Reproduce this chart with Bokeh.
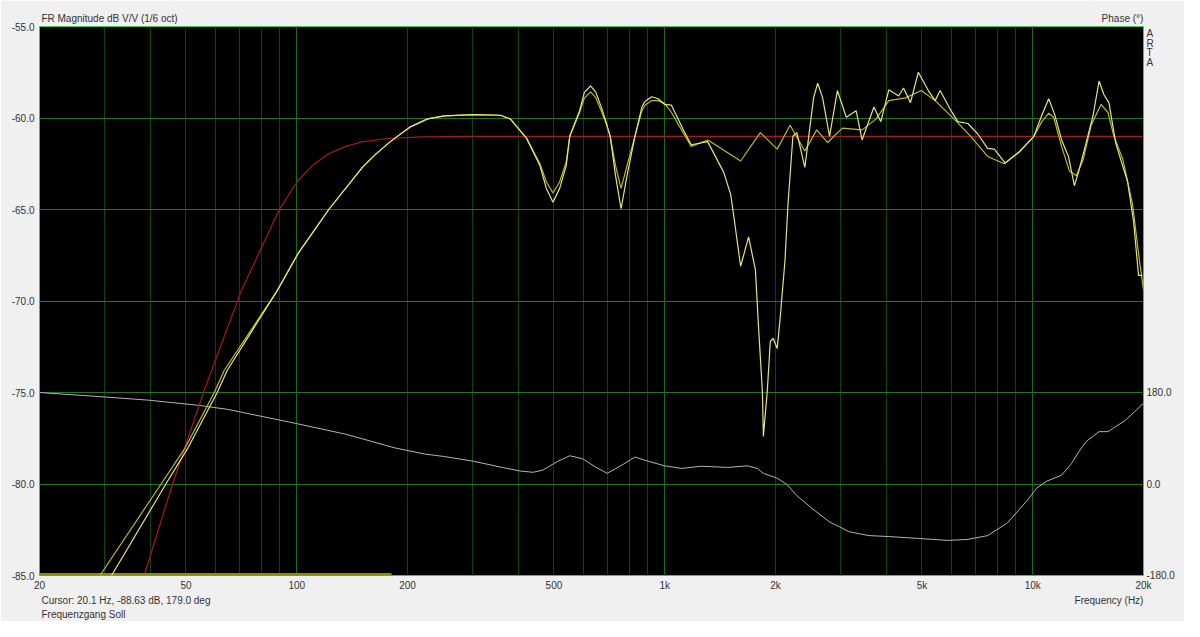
from bokeh.plotting import figure
from bokeh.models import (Range1d, LinearAxis, FixedTicker, PrintfTickFormatter, Grid, Title,
                          LinearScale)
from bokeh.embed import file_html
from bokeh.resources import INLINE

# ---------------- data ----------------
freq_ticks = [20, 50, 100, 200, 500, 1000, 2000, 5000, 10000, 20000]
freq_tick_labels = ["20", "50", "100", "200", "500", "1k", "2k", "5k", "10k", "20k"]
grid_freqs = [20, 30, 40, 50, 60, 70, 80, 90, 100, 200, 300, 400, 500, 600, 700, 800, 900,
              1000, 2000, 3000, 4000, 5000, 6000, 7000, 8000, 9000, 10000, 20000]
decade_freqs = [100, 1000, 10000]
db_ticks = [-85, -80, -75, -70, -65, -60, -55]
db_grid = [-80, -75, -70, -65, -60]
phase_ticks = [-180, 0, 180]

# target ("Soll") response, dark red
target_freq = [38.5, 46.0, 55.8, 70.5, 89.7, 100.9, 111, 122, 136, 151, 177, 220, 300, 1000,
               20000]
target_db = [-85, -80, -75, -69.5, -65, -63.4, -62.55, -61.95, -61.55, -61.3, -61.12, -61.03,
             -61.0, -61.0, -61.0]

# measured response (light yellow, detailed)
a_freq = [31.4, 44.1, 50.5, 60.8, 64.7, 88.1, 100.9, 122.2, 150.8, 163.4, 177, 184.9, 202.9,
          226.8, 252, 303, 358, 381, 421, 458, 477, 497, 518, 540, 552, 587, 605, 629, 650,
          675, 690, 711, 735, 761, 790, 830, 867, 883, 922, 960, 999, 1043, 1130, 1181, 1308,
          1447, 1512, 1539, 1608, 1690, 1764, 1797, 1842, 1854, 1900, 1936, 1972, 2021, 2058,
          2122, 2162, 2230, 2286, 2403, 2538, 2604, 2686, 2805, 2946, 3114, 3312, 3438,
          3702, 3866, 4064, 4322, 4456, 4654, 4888, 5204, 5432, 5602, 5996, 6262, 6664,
          7082, 7541, 7866, 8420, 9182, 10074, 10586, 11052, 11470, 11978, 12504, 12978,
          13384, 13991, 14592, 15144, 15616, 16108, 16820, 18114, 18798, 19388, 19872]
a_db = [-85, -80, -78.07, -75, -73.8, -69.5, -67.4, -65.0, -62.7, -62.0, -61.4, -61.1, -60.5,
        -60.05, -59.88, -59.82, -59.85, -60.06, -61.1, -62.6, -63.86, -64.6, -63.86, -62.6, -61.0,
        -59.6, -58.6, -58.25, -58.6, -59.5, -60.1, -61.0, -63.15, -64.96, -63.15, -61.0, -59.4,
        -59.1, -58.84, -58.95, -59.26, -59.3, -60.75, -61.46, -61.29, -62.97, -64.2, -65.3, -68.1,
        -66.5, -68.3, -71.3, -74.9, -77.4, -74.9, -72.2, -72.05, -72.6, -71.0, -67.8, -64.75,
        -61.0, -60.8, -62.7, -58.9, -58.1, -58.9, -61.0, -58.5, -59.96, -59.6, -61.2, -59.4,
        -60.2, -58.46, -58.8, -58.36, -59.16, -57.5, -58.5, -59.05, -58.5, -59.6, -60.2, -60.3,
        -60.86, -61.66, -61.7, -62.46, -61.87, -61.0, -59.85, -58.95, -59.8, -61.2, -62.1,
        -63.7, -62.8, -61.3, -59.85, -57.98, -58.73, -59.16, -61.4, -63.5, -65.66, -68.6, -68.6]

# smoothed response (olive yellow)
b_freq = [29.2, 42.8, 49.6, 59.7, 63.5, 88.1, 100.9, 122.2, 150.8, 163.4, 177, 184.9, 202.9,
          226.8, 252, 303, 358, 381, 421, 458, 477, 497, 518, 540, 552, 587, 605, 629, 650,
          675, 690, 711, 735, 761, 790, 830, 867, 883, 922, 960, 999, 1043, 1130, 1181, 1310,
          1608, 1819, 2021, 2191, 2403, 2588, 2770, 3038, 3438, 3748, 4064, 4510, 4980, 5432,
          6146, 6784, 7541, 8368, 9238, 10074, 10586, 11052, 11398, 11978, 12582, 13138,
          13720, 14412, 15328, 16014, 16620, 17570, 18684, 19388, 20000]
b_db = [-85, -80, -78.07, -75, -73.8, -69.5, -67.4, -65.0, -62.7, -62.0, -61.4, -61.1, -60.5,
        -60.05, -59.88, -59.82, -59.85, -60.06, -61.1, -62.5, -63.5, -64.1, -63.5, -62.4, -61.0,
        -59.7, -58.9, -58.57, -58.9, -59.7, -60.2, -61.0, -62.6, -63.85, -62.6, -61.0, -59.6,
        -59.3, -59.05, -59.05, -59.2, -59.7, -60.9, -61.55, -61.2, -62.35, -60.8, -61.7, -60.4,
        -61.8, -60.65, -61.34, -60.55, -60.65, -60.06, -59.05, -58.9, -58.5, -59.05, -60.1,
        -61.0, -62.1, -62.5, -61.8, -61.0, -60.2, -59.74, -59.96, -61.55, -62.9, -63.15,
        -62.25, -60.4, -59.26, -59.7, -61.0, -62.25, -64.75, -67.4, -69.4]

# low-frequency floor trace
floor_freq = [20, 181]
floor_db = [-85, -85]

# phase (degrees, right axis)
phase_freq = [20, 29.0, 39.5, 53.7, 64.7, 99.7, 135.8, 184.9, 222.6, 252, 303, 365, 405, 439,
              467, 510, 552, 598, 650, 698, 760, 830, 910, 999, 1110, 1256, 1484, 1678, 1786,
              1854, 2021, 2150, 2286, 2524, 2805, 2982, 3174, 3592, 4064, 4888, 5889, 6664,
              7541, 8533, 9656, 10262, 10926, 11978, 12740, 13384, 13991, 15144, 16014, 17915,
              20000]
phase_deg = [180, 172, 165, 155, 147, 119, 98, 71, 59, 54, 44.6, 32, 25.5, 23, 27.4, 44, 55.5,
             49.8, 33, 21, 36, 53, 44, 35.8, 30.6, 35, 32.6, 35.8, 30.6, 21, 11.5, -1.3, -23, -49,
             -74.7, -84, -94, -101.5, -103.4, -107, -111, -109, -101.5, -76.6, -32.6, -7.7, 5.7,
             17.2, 40, 65, 84, 103, 103, 126, 159]

# texts
title_left = "FR Magnitude dB V/V (1/6 oct)"
title_right = "Phase (°)"
arta_letters = ["A", "R", "T", "A"]
cursor_text = "Cursor: 20.1 Hz, -88.63 dB, 179.0 deg"
x_label = "Frequency (Hz)"
footer_text = "Frequenzgang Soll"

# ---------------- layout / style ----------------
FONT = "Liberation Sans"
TXT = "#333333"
FS = "10px"
W, H = 1184, 621
BL, BR, BT, BB = 39, 41, 26, 46
FW, FH = W - BL - BR, H - BT - BB

p = figure(width=W, height=H, x_axis_type="log", title=None,
           x_range=Range1d(20, 20000), y_range=Range1d(-85, -55),
           output_backend="svg", toolbar_location=None,
           min_border_left=BL, min_border_right=BR, min_border_top=BT, min_border_bottom=BB,
           background_fill_color="black", border_fill_color="#f0f0f0",
           outline_line_color="#46c846", outline_line_width=1)
PH_LO, PH_HI = -180, 900
p.extra_y_ranges = {"phase": Range1d(PH_LO, PH_HI)}
p.extra_x_ranges = {"px": Range1d(0, FW)}
p.extra_x_scales = {"px": LinearScale()}


def style_axis(ax, standoff):
    ax.axis_line_color = None
    ax.major_tick_line_color = None
    ax.minor_tick_line_color = None
    ax.major_label_standoff = standoff
    ax.major_label_text_font = FONT
    ax.major_label_text_font_size = FS
    ax.major_label_text_color = TXT


# main axes
xa = p.xaxis[0]
xa.ticker = FixedTicker(ticks=freq_ticks, minor_ticks=[])
xa.major_label_overrides = {t: l for t, l in zip(freq_ticks, freq_tick_labels)}
style_axis(xa, -2)

ya = p.yaxis[0]
ya.ticker = FixedTicker(ticks=db_ticks, minor_ticks=[])
ya.formatter = PrintfTickFormatter(format="%.1f")
style_axis(ya, -1)

# right (phase) axis; the stacked "ARTA" letters sit in its label column
deg_per_px = (PH_HI - PH_LO) / FH
arta_pos = [PH_HI - dy * deg_per_px for dy in (7, 16.5, 26.2, 36.4)]
ra = LinearAxis(y_range_name="phase",
                ticker=FixedTicker(ticks=phase_ticks + arta_pos, minor_ticks=[]),
                formatter=PrintfTickFormatter(format="%.1f"),
                major_label_overrides={v: l for v, l in zip(arta_pos, arta_letters)})
style_axis(ra, -3)
p.add_layout(ra, "right")

# header row (left and right texts) as labels of a label-only axis above
w_title_left, w_title_right = 136, 42
top = LinearAxis(x_range_name="px",
                 ticker=FixedTicker(ticks=[2 + w_title_left / 2, FW - w_title_right / 2],
                                    minor_ticks=[]))
top.major_label_overrides = {2 + w_title_left / 2: title_left, FW - w_title_right / 2: title_right}
style_axis(top, -3)
p.add_layout(top, "above")

# second footer row: cursor readout (left) and x-axis name (right)
w_cursor, w_xlabel = 169, 69
bot = LinearAxis(x_range_name="px",
                 ticker=FixedTicker(ticks=[2 + w_cursor / 2, FW - w_xlabel / 2], minor_ticks=[]))
bot.major_label_overrides = {2 + w_cursor / 2: cursor_text, FW - w_xlabel / 2: x_label}
style_axis(bot, -5)
p.add_layout(bot, "below")

# third footer row
p.add_layout(Title(text=footer_text, align="left", offset=2, standoff=-3,
                   text_font=FONT, text_font_size=FS, text_font_style="normal",
                   text_color=TXT), "below")

# grids
p.xgrid.ticker = FixedTicker(ticks=grid_freqs)
p.xgrid.grid_line_color = "#0a460a"
p.ygrid.ticker = FixedTicker(ticks=db_grid)
p.ygrid.grid_line_color = "#1c7a1c"
p.add_layout(Grid(dimension=0, ticker=FixedTicker(ticks=decade_freqs), grid_line_color="#107010"))

# curves
p.line(phase_freq, phase_deg, y_range_name="phase", line_color="#b4b4b4", line_width=1)
p.line(target_freq, target_db, line_color="#a81a1a", line_width=1.2)
p.line(floor_freq, floor_db, line_color="#8c8c00", line_width=5)
p.line(b_freq, b_db, line_color="#bcbc1e", line_width=1.2)
p.line(a_freq, a_db, line_color="#e4e47a", line_width=1.2)

open("out.html", "w").write(file_html(p, INLINE))
